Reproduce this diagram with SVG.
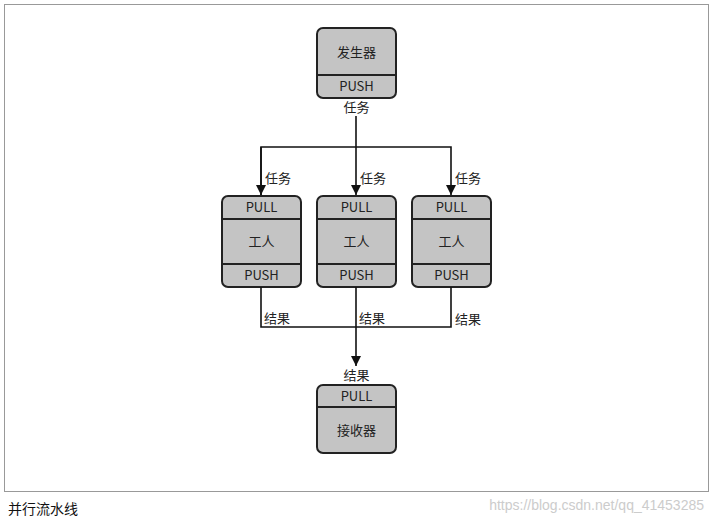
<svg xmlns="http://www.w3.org/2000/svg" width="713" height="521" viewBox="0 0 713 521">
<defs>
<marker id="ah" viewBox="0 0 10 10" refX="10" refY="5" markerWidth="10" markerHeight="10" markerUnits="userSpaceOnUse" orient="auto"><path d="M0,0L10,5L0,10z" fill="#111"/></marker>
</defs>
<style>
.box{fill:#c4c4c4;stroke:#222;stroke-width:2}
.div{stroke:#222;stroke-width:2}
.t{font-family:"Noto Sans CJK SC","Noto Sans",sans-serif;font-size:13px;fill:#222;text-anchor:middle}
.lab{font-family:"Noto Sans CJK SC",sans-serif;font-size:13px;fill:#222}
.c{fill:none;stroke:#111;stroke-width:1.6}
</style>
<rect x="0" y="0" width="713" height="521" fill="#fff"/>
<rect x="4.5" y="4.5" width="704" height="487" fill="none" stroke="#999" stroke-width="1"/>
<g id="generator">
<rect class="box" x="317" y="28" width="79" height="70" rx="6"/>
<line class="div" x1="317" y1="75" x2="396" y2="75"/>
<text class="t" x="356.5" y="57">发生器</text>
<text class="t" x="356.5" y="91" font-size="12">PUSH</text>
</g>
<g id="worker1">
<rect class="box" x="222" y="196" width="79" height="91" rx="6"/>
<line class="div" x1="222" y1="219" x2="301" y2="219"/><line class="div" x1="222" y1="264" x2="301" y2="264"/>
<text class="t" x="261.5" y="212" font-size="12">PULL</text><text class="t" x="261.5" y="246">工人</text><text class="t" x="261.5" y="280" font-size="12">PUSH</text>
</g>
<g id="worker2">
<rect class="box" x="317" y="196" width="79" height="91" rx="6"/>
<line class="div" x1="317" y1="219" x2="396" y2="219"/><line class="div" x1="317" y1="264" x2="396" y2="264"/>
<text class="t" x="356.5" y="212" font-size="12">PULL</text><text class="t" x="356.5" y="246">工人</text><text class="t" x="356.5" y="280" font-size="12">PUSH</text>
</g>
<g id="worker3">
<rect class="box" x="412" y="196" width="79" height="91" rx="6"/>
<line class="div" x1="412" y1="219" x2="491" y2="219"/><line class="div" x1="412" y1="264" x2="491" y2="264"/>
<text class="t" x="451.5" y="212" font-size="12">PULL</text><text class="t" x="451.5" y="246">工人</text><text class="t" x="451.5" y="280" font-size="12">PUSH</text>
</g>
<g id="receiver">
<rect class="box" x="317" y="385" width="79" height="68" rx="6"/>
<line class="div" x1="317" y1="407" x2="396" y2="407"/>
<text class="t" x="356.5" y="401" font-size="12">PULL</text><text class="t" x="356.5" y="435">接收器</text>
</g>
<g id="connectors">
<line class="c" x1="356" y1="116" x2="356" y2="195" marker-end="url(#ah)"/>
<polyline class="c" points="261,195 261,147 451,147 451,195" marker-end="url(#ah)"/>
<line class="c" x1="261" y1="147" x2="261" y2="195" marker-end="url(#ah)"/>
<polyline class="c" points="261,287 261,327 451,327 451,287"/>
<line class="c" x1="356" y1="287" x2="356" y2="366" marker-end="url(#ah)"/>
<text class="t" x="356.5" y="112">任务</text>
<text class="lab" x="265" y="183">任务</text>
<text class="lab" x="360" y="183">任务</text>
<text class="lab" x="455" y="183">任务</text>
<text class="lab" x="264" y="323">结果</text>
<text class="lab" x="359" y="323">结果</text>
<text class="lab" x="455" y="324">结果</text>
<text class="t" x="356.5" y="380">结果</text>
</g>
<text x="8" y="514" font-family="Noto Sans CJK SC,sans-serif" font-size="14" fill="#111">并行流水线</text>
<text x="704" y="510" text-anchor="end" font-family="Liberation Sans,sans-serif" font-size="14" fill="#ccc">https://blog.csdn.net/qq_41453285</text>
</svg>
